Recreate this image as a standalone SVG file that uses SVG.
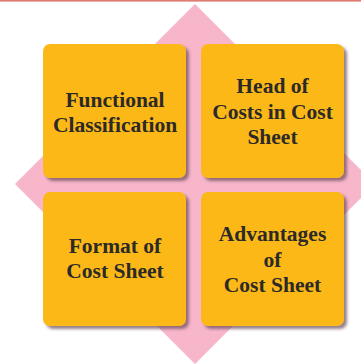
<svg xmlns="http://www.w3.org/2000/svg" width="361" height="364" viewBox="0 0 361 364">
<defs>
<style>
.box{fill:#fcb816;filter:url(#sh);}
.t{font-family:"Liberation Serif","Times New Roman",serif;font-weight:bold;font-size:21.5px;fill:#2b2a28;text-anchor:middle;}
</style>
<filter id="sh" x="-10%" y="-10%" width="130%" height="130%">
<feGaussianBlur in="SourceAlpha" stdDeviation="1.5"/>
<feOffset dx="3" dy="3" result="b"/>
<feFlood flood-color="#6b4a5a" flood-opacity="0.7"/>
<feComposite in2="b" operator="in"/>
<feMerge><feMergeNode/><feMergeNode in="SourceGraphic"/></feMerge>
</filter>
</defs>
<rect x="0" y="0" width="361" height="364" fill="#ffffff"/>
<rect x="0" y="0" width="361" height="1.6" fill="#e07b73"/>
<polygon points="195,4 375,184 195,364 15,184" fill="#f7b6ca"/>
<g id="connectors"></g>
<g id="n1">
<rect class="box" x="43" y="44" width="143" height="134" rx="7"/>
<text class="t" x="115" y="107">Functional</text>
<text class="t" x="115" y="132">Classification</text>
</g>
<g id="n2">
<rect class="box" x="201" y="44" width="143" height="134" rx="7"/>
<text class="t" x="272.5" y="93">Head of</text>
<text class="t" x="272.5" y="118.5">Costs in Cost</text>
<text class="t" x="272.5" y="144">Sheet</text>
</g>
<g id="n3">
<rect class="box" x="43" y="192" width="143" height="134" rx="7"/>
<text class="t" x="115" y="253">Format of</text>
<text class="t" x="115" y="278">Cost Sheet</text>
</g>
<g id="n4">
<rect class="box" x="201" y="192" width="143" height="134" rx="7"/>
<text class="t" x="272.5" y="241">Advantages</text>
<text class="t" x="272.5" y="267">of</text>
<text class="t" x="272.5" y="292">Cost Sheet</text>
</g>
</svg>
